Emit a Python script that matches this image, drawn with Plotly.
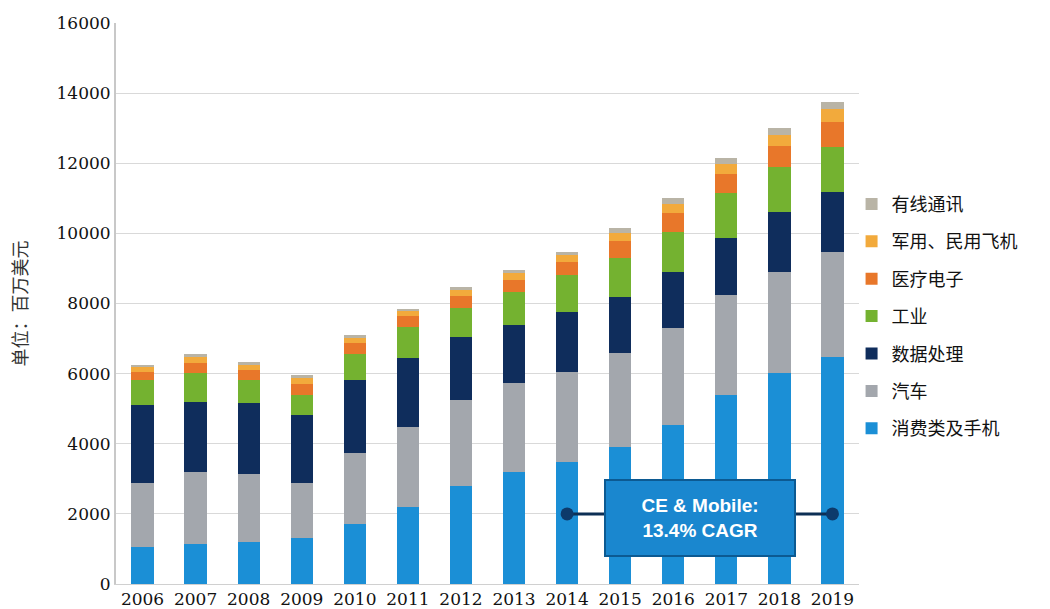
import plotly.graph_objects as go

years = ["2006", "2007", "2008", "2009", "2010", "2011", "2012",
         "2013", "2014", "2015", "2016", "2017", "2018", "2019"]

consumer = [1060, 1140, 1210, 1300, 1710, 2200, 2800, 3200, 3490, 3920, 4540, 5390, 6010, 6480]
auto = [1830, 2060, 1930, 1590, 2020, 2290, 2450, 2520, 2570, 2660, 2750, 2850, 2900, 3000]
data_proc = [2220, 2000, 2010, 1930, 2090, 1950, 1800, 1670, 1710, 1610, 1620, 1620, 1690, 1710]
industrial = [710, 810, 670, 570, 730, 900, 810, 950, 1040, 1100, 1140, 1280, 1300, 1280]
medical = [240, 300, 290, 310, 310, 290, 350, 340, 380, 480, 530, 560, 600, 710]
aero = [130, 160, 150, 170, 160, 150, 180, 180, 190, 250, 270, 280, 300, 380]
wired = [60, 80, 70, 80, 80, 70, 90, 90, 100, 130, 150, 160, 200, 200]

series_names = ["消费类及手机", "汽车", "数据处理", "工业", "医疗电子", "军用、民用飞机", "有线通讯"]
series_values = [consumer, auto, data_proc, industrial, medical, aero, wired]
series_colors = ["#1b8fd6", "#a3a7ad", "#0f2d5c", "#74b230", "#e8772a", "#f2aa3c", "#b9b4a6"]

cagr_x = ["2014", "2019"]
cagr_y = [2000, 2000]
cagr_text = "<b>CE &amp; Mobile:<br>13.4% CAGR</b>"

fig = go.Figure()
n = len(series_names)
for i, (name, vals, col) in enumerate(zip(series_names, series_values, series_colors)):
    fig.add_trace(go.Bar(
        x=years, y=vals, name=name, marker_color=col,
        marker_line_width=0, legendgroup=name, legendrank=1000 + (n - i),
    ))

fig.add_trace(go.Scatter(
    x=cagr_x, y=cagr_y, mode="lines+markers", showlegend=False,
    line=dict(color="#0d2f55", width=3),
    marker=dict(color="#0d3a6b", size=13),
))

fig.add_annotation(
    x=10.5, y=1880, xref="x", yref="y", text=cagr_text, showarrow=False,
    font=dict(family="Liberation Sans, Arial", size=19, color="white"),
    bgcolor="#1a87cf", bordercolor="#0c5a92", borderwidth=2, borderpad=9,
    width=170, height=56, align="center",
)

fig.update_layout(
    width=1050, height=609,
    barmode="stack", bargap=0.58,
    plot_bgcolor="white", paper_bgcolor="white",
    margin=dict(l=116, r=191, t=23, b=25, autoexpand=False),
    font=dict(family="DejaVu Serif", size=17, color="#222"),
    legend=dict(
        traceorder="grouped", x=0.99, xanchor="left", y=0.71, yanchor="top",
        font=dict(family="Noto Sans CJK SC", size=18, color="#111"),
        tracegroupgap=11, bgcolor="rgba(0,0,0,0)",
    ),
    xaxis=dict(
        type="category", range=[-0.5, 13.5], showgrid=False, showline=True, linecolor="#d0d0d0",
        ticks="", automargin=False,
        tickfont=dict(family="DejaVu Serif", size=17, color="#111"),
    ),
    yaxis=dict(
        range=[0, 16000], dtick=2000, tickformat="d", showgrid=True, gridcolor="#d9d9d9",
        showline=True, linecolor="#c8c8c8", linewidth=2, zeroline=False,
        ticks="", automargin=False,
        tickfont=dict(family="DejaVu Serif", size=17, color="#111"),
        title=dict(text="单位：百万美元", font=dict(family="Noto Sans CJK SC", size=18, color="#333"), standoff=24),
    ),
)

fig.write_html("out.html")
